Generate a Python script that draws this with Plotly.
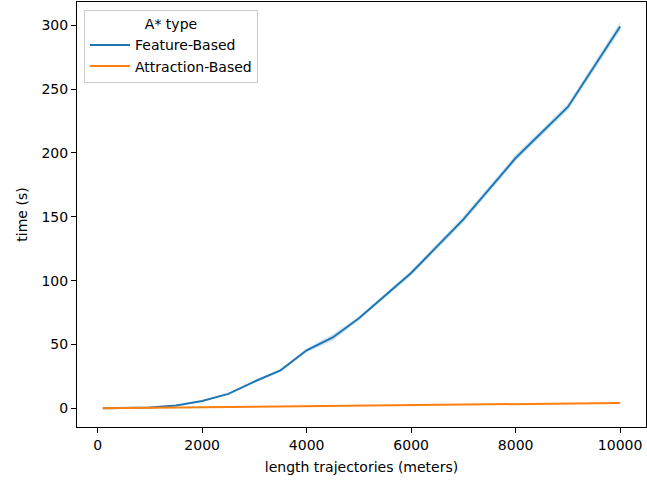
import plotly.graph_objects as go

# data
lengths = [100, 500, 1000, 1500, 2000, 2500, 3000, 3500, 4000, 4500, 5000, 6000, 7000, 8000, 9000, 10000]
feature_time = [0.1, 0.2, 0.6, 2.2, 5.8, 11.3, 21.0, 29.8, 45.5, 55.5, 70.5, 106.0, 148.0, 196.0, 236.0, 299.0]
feature_ci = [0.0, 0.05, 0.1, 0.2, 0.4, 0.6, 0.8, 1.0, 1.5, 2.5, 1.5, 2.0, 2.5, 2.5, 2.5, 3.5]
attraction_time = [0.05, 0.2, 0.4, 0.6, 0.8, 1.0, 1.2, 1.45, 1.65, 1.85, 2.1, 2.5, 2.9, 3.3, 3.7, 4.2]
attraction_ci = [0.05, 0.05, 0.1, 0.1, 0.1, 0.15, 0.15, 0.2, 0.2, 0.2, 0.25, 0.25, 0.3, 0.3, 0.3, 0.35]
series_names = ["Feature-Based", "Attraction-Based"]
x_ticks = [0, 2000, 4000, 6000, 8000, 10000]
y_ticks = [0, 50, 100, 150, 200, 250, 300]

colors = ["#1f77b4", "#ff7f0e"]
bands = ["rgba(31,119,180,0.2)", "rgba(255,127,14,0.2)"]

fig = go.Figure()
for name, ys, ci, c, b in zip(series_names, [feature_time, attraction_time],
                              [feature_ci, attraction_ci], colors, bands):
    upper = [y + e for y, e in zip(ys, ci)]
    lower = [y - e for y, e in zip(ys, ci)]
    fig.add_trace(go.Scatter(x=lengths + lengths[::-1], y=upper + lower[::-1],
                             fill="toself", fillcolor=b, line=dict(width=0),
                             mode="lines", showlegend=False, hoverinfo="skip"))
for name, ys, c in zip(series_names, [feature_time, attraction_time], colors):
    fig.add_trace(go.Scatter(x=lengths, y=ys, mode="lines", name=name,
                             line=dict(color=c, width=2)))

font = dict(family="DejaVu Sans", size=14, color="black")
axis_common = dict(showline=True, linecolor="black", linewidth=1, mirror=True,
                   ticks="outside", ticklen=5, tickcolor="black", tickwidth=1,
                   showgrid=False, zeroline=False, tickfont=font, automargin=False)

fig.update_layout(
    width=647, height=482,
    margin=dict(l=77, r=1, t=2, b=55),
    plot_bgcolor="white", paper_bgcolor="white",
    font=font,
    xaxis=dict(range=[-395, 10495], tickvals=x_ticks, tickformat="d",
               title=dict(text="length trajectories (meters)", font=font, standoff=10),
               **axis_common),
    yaxis=dict(range=[-14.6, 318.2], tickvals=y_ticks, tickformat="d",
               title=dict(text="time (s)", font=font, standoff=10),
               **axis_common),
    legend=dict(x=0.0123, y=0.981, xanchor="left", yanchor="top",
                bgcolor="rgba(255,255,255,0.8)", bordercolor="#cccccc", borderwidth=1,
                title=dict(text="A* type", side="top center", font=font),
                font=font, tracegroupgap=0, itemwidth=40,
                entrywidth=184, entrywidthmode="pixels"),
    showlegend=True,
)

fig.write_html("out.html", config={"displayModeBar": False},
               post_script="document.body.style.margin='0';")
